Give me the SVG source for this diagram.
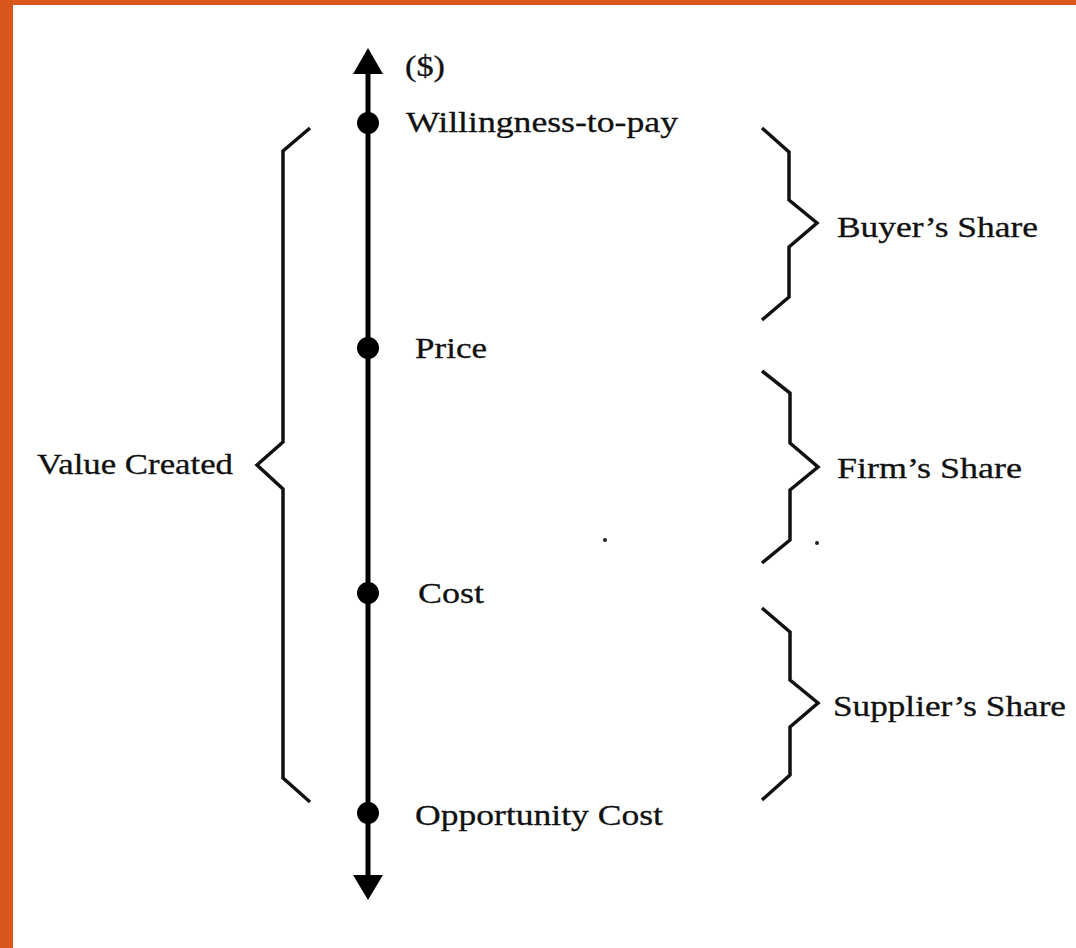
<svg xmlns="http://www.w3.org/2000/svg" width="1076" height="948" viewBox="0 0 1076 948">
<defs>
<style>
.t{font-family:"Liberation Serif","Times New Roman",serif;font-size:30px;fill:#111;stroke:#111;stroke-width:0.3}
.br{fill:none;stroke:#111;stroke-width:3.5;stroke-linejoin:miter}
.dot{fill:#000}
</style>
</defs>
<rect width="1076" height="948" fill="#fff"/>
<rect x="0" y="0" width="1076" height="5" fill="#d9561c"/>
<rect x="0" y="0" width="13" height="948" fill="#d9561c"/>
<g id="connectors">
<line x1="368" y1="70" x2="368" y2="878" stroke="#000" stroke-width="5"/>
<polygon points="368,48 383,74 353,74" fill="#000"/>
<polygon points="368,900 383,875 353,875" fill="#000"/>
</g>
<g id="value-created">
<path class="br" d="M310,128 L283,151 L283,442 L257,465 L283,489 L283,778 L310,802"/>
<text class="t" x="37" y="474" textLength="196" lengthAdjust="spacingAndGlyphs">Value Created</text>
</g>
<g id="dollar"><text class="t" x="405" y="76" textLength="40" lengthAdjust="spacingAndGlyphs">($)</text></g>
<g id="willingness">
<circle class="dot" cx="368" cy="123" r="11"/>
<text class="t" x="406" y="132" textLength="272" lengthAdjust="spacingAndGlyphs">Willingness-to-pay</text>
</g>
<g id="price">
<circle class="dot" cx="368" cy="348" r="11"/>
<text class="t" x="415" y="358" textLength="72" lengthAdjust="spacingAndGlyphs">Price</text>
</g>
<g id="cost">
<circle class="dot" cx="368" cy="593" r="11"/>
<text class="t" x="418" y="603" textLength="66" lengthAdjust="spacingAndGlyphs">Cost</text>
</g>
<g id="opportunity-cost">
<circle class="dot" cx="368" cy="813" r="11"/>
<text class="t" x="415" y="825" textLength="248" lengthAdjust="spacingAndGlyphs">Opportunity Cost</text>
</g>
<g id="buyers-share">
<path class="br" d="M762,128 L789,152 L789,200 L817,223 L789,247 L789,297 L762,320"/>
<text class="t" x="837" y="237" textLength="201" lengthAdjust="spacingAndGlyphs">Buyer’s Share</text>
</g>
<g id="firms-share">
<path class="br" d="M762,371 L790,393 L790,443 L818,467 L790,490 L790,540 L762,563"/>
<text class="t" x="837" y="478" textLength="185" lengthAdjust="spacingAndGlyphs">Firm’s Share</text>
</g>
<g id="suppliers-share">
<path class="br" d="M762,608 L790,632 L790,680 L818,703 L790,727 L790,775 L762,800"/>
<text class="t" x="833" y="716" textLength="233" lengthAdjust="spacingAndGlyphs">Supplier’s Share</text>
</g>
<circle cx="605" cy="540" r="2" fill="#222"/>
<circle cx="817" cy="543" r="2" fill="#222"/>
</svg>
